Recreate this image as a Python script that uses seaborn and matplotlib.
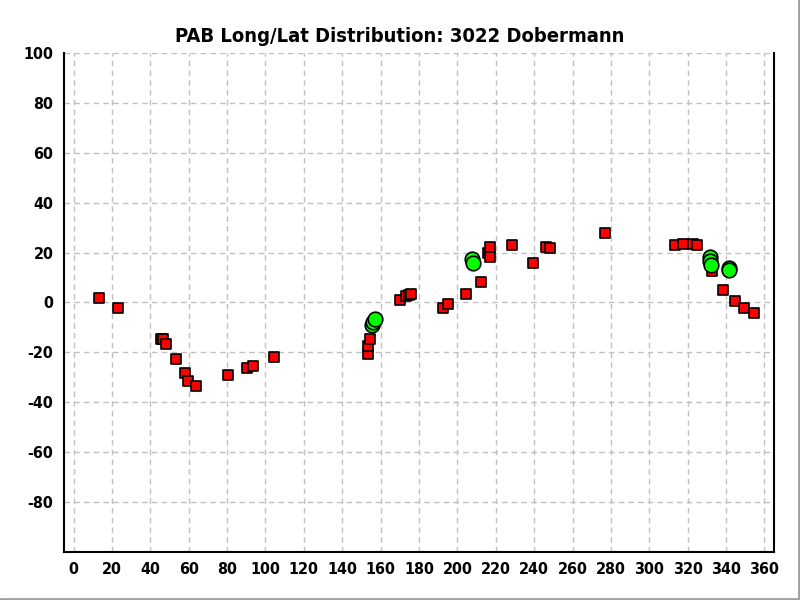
import matplotlib
matplotlib.use("Agg")
import matplotlib.pyplot as plt
from matplotlib import font_manager
from matplotlib.lines import Line2D
import seaborn as sns
import pandas as pd

# red squares (longitude, latitude)
red_lon = [13.0, 23.4, 45.3, 46.5, 47.9, 53.6, 57.8, 59.8, 64.0, 80.6, 90.5, 93.7, 104.6,
           153.6, 153.6, 154.4, 170.3, 173.4, 174.8, 176.0, 192.7, 195.3, 204.6, 212.5,
           216.0, 217.1, 217.1, 228.6, 239.5, 246.3, 248.4, 277.0, 313.4, 317.5, 322.7,
           324.8, 332.8, 338.4, 344.6, 349.3, 354.5]
red_lat = [1.6, -2.4, -14.8, -14.6, -16.8, -22.8, -28.4, -31.6, -33.6, -29.2, -26.4, -25.6, -22.0,
           -20.5, -17.5, -14.5, 1.1, 2.7, 3.2, 3.5, -2.1, -0.5, 3.5, 8.3,
           20.0, 22.4, 18.4, 23.1, 15.9, 22.4, 21.9, 27.9, 23.1, 23.5, 23.5,
           23.1, 12.8, 5.1, 0.4, -2.1, -4.1]

# green circles
green_lon = [155.3, 155.9, 157.0, 207.6, 208.0, 331.6, 331.9, 332.1, 341.8, 341.8]
green_lat = [-9.2, -7.9, -6.8, 17.5, 16.0, 18.1, 16.8, 15.1, 14.0, 13.1]

red = pd.DataFrame({"lon": red_lon, "lat": red_lat})
green = pd.DataFrame({"lon": green_lon, "lat": green_lat})

sns.set_style("white")
names = {f.name for f in font_manager.fontManager.ttflist}
narrow = "Liberation Sans Narrow" if "Liberation Sans Narrow" in names else "DejaVu Sans"
plt.rcParams['font.family'] = [narrow, 'DejaVu Sans']
plt.rcParams['font.stretch'] = 'condensed'
plt.rcParams['axes.unicode_minus'] = False
plt.rcParams['text.color'] = 'black'
plt.rcParams['xtick.color'] = 'black'
plt.rcParams['ytick.color'] = 'black'

fig = plt.figure(figsize=(8, 6), dpi=100)
ax = fig.add_axes([0.08, 0.08, 0.8875, 0.8317])

sns.scatterplot(data=red, x="lon", y="lat", marker="s", s=55, color="#ff0000",
                edgecolor="black", linewidth=1.2, ax=ax, zorder=3)
sns.scatterplot(data=green, x="lon", y="lat", marker="o", s=110, color="#00ff00",
                edgecolor="black", linewidth=1.2, ax=ax, zorder=4)

ax.set_xlim(-5, 365)
ax.set_ylim(-100, 100)
ax.set_xticks(range(0, 361, 20))
ax.set_yticks(range(-80, 101, 20))
ax.tick_params(axis="both", labelsize=11.5, length=4, width=1, direction="out",
               color="black", labelcolor="black")
for lbl in ax.get_xticklabels() + ax.get_yticklabels():
    lbl.set_fontweight("bold")
ax.grid(True, linestyle=(0, (4, 3)), color="#c0c0c0", linewidth=1)
ax.set_axisbelow(True)
ax.spines["top"].set_visible(False)
for side in ["left", "bottom", "right"]:
    ax.spines[side].set_color("black")
    ax.spines[side].set_linewidth(1.5)
ax.set_xlabel("")
ax.set_ylabel("")
fig.text(0.5, 0.93, "PAB Long/Lat Distribution: 3022 Dobermann", ha="center",
         fontsize=14.5, fontweight="bold", color="black")

# window-like gray border on the right and bottom
fig.add_artist(Line2D([0.9985, 0.9985], [0, 1], color="#a0a0a0", linewidth=2, transform=fig.transFigure))
fig.add_artist(Line2D([0, 1], [0.0015, 0.0015], color="#a0a0a0", linewidth=2, transform=fig.transFigure))

fig.savefig("out.png", dpi=100)
